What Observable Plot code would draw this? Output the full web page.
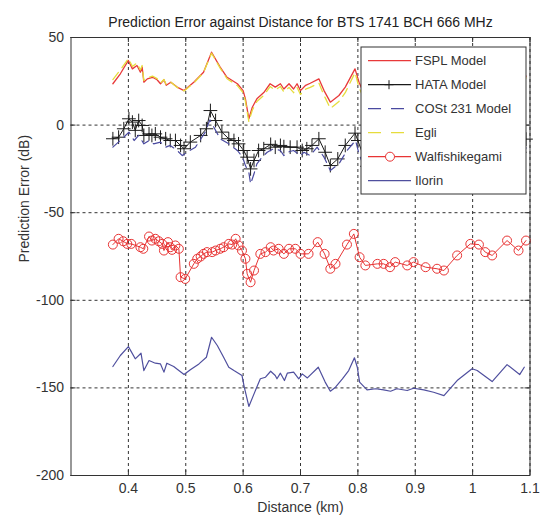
<!DOCTYPE html>
<html><head><meta charset="utf-8">
<script src="https://cdn.jsdelivr.net/npm/d3@7"></script>
<script src="https://cdn.jsdelivr.net/npm/@observablehq/plot@0.6"></script>
<style>body{margin:0;background:#fff}</style>
</head><body><div id="chart"></div>
<script>
const title = "Prediction Error against Distance for BTS 1741 BCH 666 MHz";
const xLabel = "Distance (km)";
const yLabel = "Prediction Error (dB)";
const xTicks = [0.4, 0.5, 0.6, 0.7, 0.8, 0.9, 1.0, 1.1];
const xTickLabels = ["0.4", "0.5", "0.6", "0.7", "0.8", "0.9", "1", "1.1"];
const yTicks = [50, 0, -50, -100, -150, -200];
const yTickLabels = ["50", "0", "-50", "-100", "-150", "-200"];
const seriesNames = ["FSPL Model", "HATA Model", "COSt 231 Model", "Egli", "Walfishikegami", "Ilorin"];

const fsplDist = [0.373,0.386,0.400,0.407,0.415,0.421,0.424,0.427,0.433,0.442,0.450,0.456,0.462,0.466,0.474,0.485,0.497,0.514,0.531,0.545,0.560,0.572,0.590,0.600,0.604,0.610,0.616,0.624,0.636,0.647,0.656,0.665,0.671,0.680,0.688,0.694,0.700,0.709,0.717,0.732,0.741,0.752,0.767,0.778,0.795,0.802,0.816,0.831,0.845,0.868,0.897,0.932,0.950,0.973,0.999,1.008,1.034,1.060,1.082,1.093];
const fsplErr = [23.6,29.3,36.9,32.1,34.0,30.2,33.1,24.5,26.4,27.3,25.9,23.6,25.9,22.7,24.5,21.7,19.7,24.5,30.2,41.6,33.1,27.3,23.6,19.7,15.0,3.6,10.2,15.0,18.6,23.6,21.7,23.6,20.6,23.6,20.6,23.6,19.7,22.7,23.9,26.4,19.7,13.1,16.9,21.7,32.1,24.5,14,14.5,14,14.5,15,12.5,10.5,19,25.5,24.5,18.5,28,22.5,28];

const egliDist = fsplDist;
const egliErr = [26,31.5,38,33.5,35.5,31.5,34,25.5,27,28,26.5,24,26,23,24.5,21.5,19.5,24,30,41,32.5,26.5,22.5,18.5,13.5,2,8.5,13.5,17,22,20,22,19,21.5,18.5,21.5,17.5,20.5,21.5,24,17,9.5,13.5,18.5,30,21.5,11,11.5,11,11.5,12,9.5,7.5,16,22.5,21.5,15.5,25,19.5,27];

const hataDist = [0.373,0.383,0.392,0.401,0.407,0.412,0.418,0.424,0.427,0.436,0.441,0.447,0.456,0.465,0.473,0.482,0.491,0.497,0.508,0.526,0.536,0.543,0.552,0.563,0.575,0.584,0.592,0.601,0.607,0.613,0.619,0.627,0.636,0.648,0.656,0.665,0.671,0.682,0.694,0.703,0.711,0.720,0.732,0.743,0.752,0.765,0.778,0.795,0.800,0.816,0.831,0.845,0.868,0.897,0.932,0.950,0.973,0.999,1.008,1.034,1.060,1.082,1.093];
const hataErr = [-7.8,-6.9,-2.1,3.6,1.7,-3.0,2.6,-0.2,-5.9,-5.0,-5.9,-5.0,-6.9,-7.8,-8.8,-8.8,-11.6,-13.5,-9.7,-5.9,-2.1,8.3,2.6,-4.0,-7.8,-8.8,-10.7,-14.5,-18.3,-25,-20.2,-14.5,-13.5,-11,-12.6,-11.6,-12.3,-12.6,-12.6,-14.5,-13.5,-11.6,-7.8,-15.5,-23.1,-19.3,-11.6,-4.6,-8.8,-23.5,-23,-24,-24,-23.5,-26,-27.5,-19.5,-12.5,-13.5,-19.5,-10,-15.5,-8];

const costDist = [0.373,0.392,0.401,0.410,0.418,0.427,0.436,0.444,0.456,0.465,0.473,0.485,0.494,0.502,0.517,0.534,0.542,0.560,0.575,0.590,0.599,0.604,0.610,0.613,0.619,0.624,0.633,0.642,0.653,0.665,0.671,0.677,0.688,0.700,0.706,0.717,0.729,0.741,0.752,0.767,0.781,0.796,0.802,0.816,0.831,0.845,0.868,0.897,0.932,0.950,0.973,0.999,1.008,1.034,1.060,1.082,1.093];
const costErr = [-12.6,-6.9,-4.0,-8.8,-5.9,-10.7,-8.8,-10.7,-9.7,-12.6,-11.6,-14.5,-17.4,-15.5,-12.6,-4.0,3,-7.8,-10.7,-14.5,-18.3,-23.1,-26.9,-33.6,-27.8,-22.1,-18.3,-15.5,-13.5,-14.5,-17.4,-15.5,-14.5,-17.4,-15.5,-17.4,-12.6,-18.3,-25.9,-22.1,-14.5,-8.8,-16.4,-28.5,-28,-29,-29,-28.5,-31,-32.5,-24.5,-17.5,-18.5,-24.5,-15,-20.5,-13];

const walfDist = [0.373,0.383,0.391,0.398,0.405,0.421,0.426,0.436,0.441,0.447,0.453,0.459,0.462,0.469,0.473,0.476,0.482,0.488,0.491,0.499,0.514,0.520,0.526,0.531,0.537,0.546,0.552,0.560,0.566,0.575,0.581,0.587,0.592,0.598,0.604,0.607,0.613,0.619,0.630,0.639,0.648,0.653,0.662,0.671,0.680,0.691,0.700,0.714,0.730,0.742,0.752,0.761,0.781,0.793,0.803,0.813,0.834,0.845,0.856,0.865,0.886,0.897,0.918,0.938,0.950,0.973,0.996,1.011,1.022,1.034,1.060,1.080,1.093];
const walfErr = [-68.2,-64.9,-66.3,-67.8,-67.8,-69.7,-70.6,-63.6,-65.9,-64.9,-66.3,-67.8,-71.6,-66.8,-69.7,-71.2,-68.7,-70.6,-86.8,-87.8,-79.2,-76.3,-75.0,-73.5,-72.5,-72.5,-71.6,-70.6,-69.7,-67.8,-68.2,-64.9,-68.7,-71.6,-76.3,-84.9,-89.7,-83.0,-73.5,-72.5,-69.7,-71.6,-70.6,-73.5,-70.6,-70.6,-73.5,-73.5,-66.8,-73.5,-82.0,-79.2,-68.2,-62.1,-75.4,-80.1,-79.2,-79.2,-81.1,-78.2,-80.1,-78.2,-81.1,-82.0,-83.0,-74.4,-67.8,-68.2,-72.5,-74.4,-65.9,-71.6,-65.9];

const ilorDist = [0.373,0.386,0.400,0.404,0.412,0.422,0.427,0.436,0.447,0.456,0.462,0.467,0.479,0.488,0.497,0.508,0.523,0.536,0.545,0.555,0.566,0.575,0.584,0.598,0.602,0.610,0.619,0.630,0.639,0.648,0.656,0.659,0.665,0.672,0.677,0.688,0.697,0.703,0.712,0.731,0.743,0.752,0.761,0.773,0.784,0.794,0.799,0.803,0.816,0.831,0.845,0.857,0.868,0.886,0.897,0.915,0.932,0.950,0.973,0.999,1.008,1.034,1.060,1.082,1.090];
const ilorErr = [-137.8,-131.5,-126.4,-128.7,-133.4,-130.2,-140.1,-134.4,-135.9,-136.3,-141.0,-135.9,-137.8,-140.1,-142.4,-139.7,-136.3,-132.5,-121.1,-125.8,-132.5,-138.2,-140.1,-142.9,-149.6,-160.6,-153.4,-144.8,-143.9,-140.5,-142.9,-144.8,-141.6,-145.8,-141.6,-141.0,-144.8,-142.0,-144.3,-138.2,-146.7,-151.9,-149.6,-144.8,-140.1,-132.8,-138.2,-146.7,-151.1,-150.5,-151.1,-151.9,-150.5,-151.5,-150.2,-151.1,-152.5,-154.4,-145.8,-139.1,-140.1,-146.4,-136.7,-142.4,-138.2];

const colors = {fspl: "#e8393a", hata: "#1a1a1a", cost: "#4a4aa0", egli: "#e6dc3c", walf: "#e83434", ilor: "#4f4f9e"};

const rows = (d, e) => d.map((x, i) => ({x, y: e[i]}));
const fspl = rows(fsplDist, fsplErr), egli = rows(egliDist, egliErr), hata = rows(hataDist, hataErr);
const cost = rows(costDist, costErr), walf = rows(walfDist, walfErr), ilor = rows(ilorDist, ilorErr);

const W = 541, H = 519, mT = 37, mB = 44, mL = 70.5, mR = 11.5;
const pw = W - mL - mR, ph = H - mT - mB;
const FONT = "'Liberation Sans', Arial, sans-serif";
const grid = {stroke: "#333", strokeWidth: 1, strokeDasharray: "3,3"};
const dash = "9,6";

const plot = Plot.plot({
  width: W, height: H,
  marginTop: mT, marginBottom: mB, marginLeft: mL, marginRight: mR,
  style: {fontFamily: FONT, fontSize: "14px", color: "#333", background: "#fff"},
  x: {domain: [0.3, 1.1]},
  y: {domain: [-200, 50]},
  marks: [
    Plot.ruleX(xTicks, {x: d => d, ...grid}),
    Plot.ruleY(yTicks, {y: d => d, ...grid}),
    Plot.tickX(xTicks, {x: d => d, insetTop: ph - 5, stroke: "#333"}),
    Plot.tickX(xTicks, {x: d => d, insetBottom: ph - 5, stroke: "#333"}),
    Plot.tickY(yTicks, {y: d => d, insetRight: pw - 5, stroke: "#333"}),
    Plot.tickY(yTicks, {y: d => d, insetLeft: pw - 5, stroke: "#333"}),
    Plot.line(fspl, {x: "x", y: "y", stroke: colors.fspl, strokeWidth: 1.3}),
    Plot.line(hata, {x: "x", y: "y", stroke: colors.hata, strokeWidth: 1}),
    Plot.dot(hata, {x: "x", y: "y", symbol: "plus", r: 4.5, stroke: colors.hata, strokeWidth: 1}),
    Plot.line(cost, {x: "x", y: "y", stroke: colors.cost, strokeWidth: 1.2, strokeDasharray: dash}),
    Plot.line(egli, {x: "x", y: "y", stroke: colors.egli, strokeWidth: 1.3, strokeDasharray: dash}),
    Plot.line(walf, {x: "x", y: "y", stroke: colors.walf, strokeWidth: 1}),
    Plot.dot(walf, {x: "x", y: "y", r: 4.5, stroke: colors.walf, fill: "none", strokeWidth: 1}),
    Plot.line(ilor, {x: "x", y: "y", stroke: colors.ilor, strokeWidth: 1.2}),
    Plot.frame({stroke: "#333", strokeWidth: 1}),
    Plot.axisX(xTicks, {tickSize: 0, tickPadding: 8, tickFormat: (d, i) => xTickLabels[i], label: null, fill: "#333"}),
    Plot.axisY(yTicks, {tickSize: 0, tickPadding: 7, tickFormat: (d, i) => yTickLabels[i], label: null, fill: "#333"}),
    Plot.text([title], {frameAnchor: "top", dy: -20, text: d => d, fill: "#222"}),
    Plot.text([xLabel], {frameAnchor: "bottom", dy: 36, text: d => d, fill: "#333"}),
    Plot.text([yLabel], {frameAnchor: "left", dx: -46, dy: 6, rotate: -90, text: d => d, fill: "#333"})
  ]
});

// Legend
const svg = d3.select(plot);
const lg = svg.append("g").attr("font-family", FONT).attr("font-size", 13).attr("text-anchor", "start");
lg.append("rect").attr("x", 361).attr("y", 47).attr("width", 165).attr("height", 147)
  .attr("fill", "#fff").attr("stroke", "#333").attr("stroke-width", 1);
const legendStyles = [
  {stroke: colors.fspl, dash: null, marker: null},
  {stroke: colors.hata, dash: null, marker: "plus"},
  {stroke: colors.cost, dash: "13,10", marker: null},
  {stroke: colors.egli, dash: "13,10", marker: null},
  {stroke: colors.walf, dash: null, marker: "circle"},
  {stroke: colors.ilor, dash: null, marker: null}
];
seriesNames.forEach((name, i) => {
  const cy = 60.7 + i * 24;
  const s = legendStyles[i];
  const ln = lg.append("line").attr("x1", 368).attr("x2", 411).attr("y1", cy).attr("y2", cy)
    .attr("stroke", s.stroke).attr("stroke-width", 1.3);
  if (s.dash) ln.attr("stroke-dasharray", s.dash);
  if (s.marker === "plus") {
    lg.append("path").attr("d", `M384.5,${cy}h9M389,${cy - 4.5}v9`).attr("stroke", s.stroke).attr("fill", "none");
  } else if (s.marker === "circle") {
    lg.append("circle").attr("cx", 390).attr("cy", cy).attr("r", 4.5).attr("stroke", s.stroke).attr("fill", "#fff");
  }
  lg.append("text").attr("x", 415).attr("y", cy).attr("dy", "0.35em").attr("fill", "#333").text(name);
});

document.getElementById("chart").appendChild(plot);
</script>
</body></html>
